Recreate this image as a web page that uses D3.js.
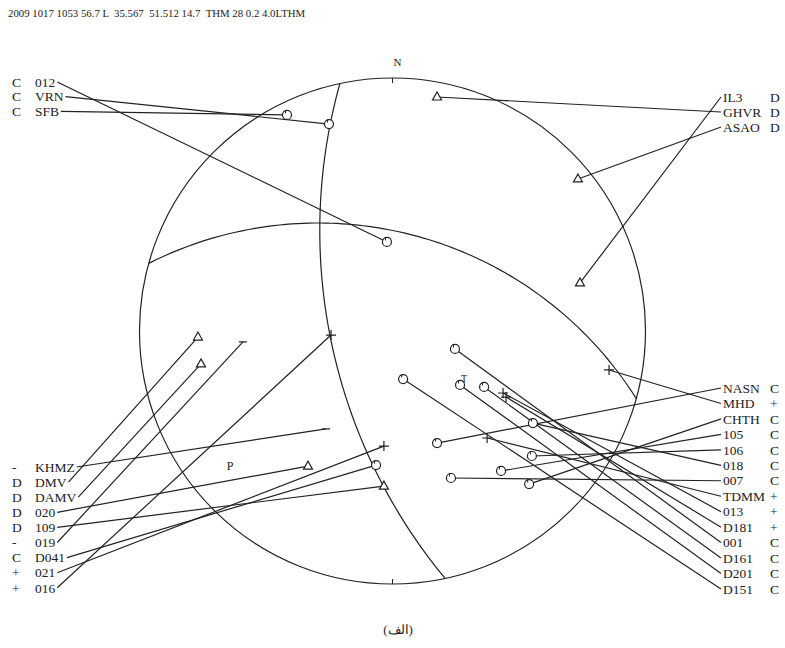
<!DOCTYPE html>
<html>
<head>
<meta charset="utf-8">
<script src="https://cdn.jsdelivr.net/npm/d3@7"></script>
<style>
body { margin: 0; background: #fff; }
text { font-family: "Liberation Serif", "DejaVu Serif", serif; fill: #222; }
</style>
</head>
<body>
<svg width="785" height="648"></svg>
<script>
// event header and caption
var header = "2009 1017 1053 56.7 L  35.567  51.512 14.7  THM 28 0.2 4.0LTHM";
var caption = "(الف)";

// nodal planes (strike, dip in degrees)
var planeStrike = [168, 285.5],
    planeDip = [62.4, 47.7];

// P and T axes, unit-circle position (east, north)
var axisNames = ["P", "T"],
    axisEast = [-0.642, 0.283],
    axisNorth = [-0.534, -0.186];

// stations, grouped by where the label is written
// east / north = position of the polarity inside the unit circle
var topLeftNames = ["012", "VRN", "SFB"],
    topLeftPol = ["C", "C", "C"],
    topLeftEast = [-0.022, -0.251, -0.417],
    topLeftNorth = [0.352, 0.818, 0.854];

var topRightNames = ["IL3", "GHVR", "ASAO"],
    topRightPol = ["D", "D", "D"],
    topRightEast = [0.741, 0.176, 0.733],
    topRightNorth = [0.190, 0.925, 0.601];

var botLeftNames = ["KHMZ", "DMV", "DAMV", "020", "109", "019", "D041", "021", "016"],
    botLeftPol = ["-", "D", "D", "D", "D", "-", "C", "+", "+"],
    botLeftEast = [-0.263, -0.769, -0.757, -0.334, -0.034, -0.591, -0.065, -0.034, -0.243],
    botLeftNorth = [-0.387, -0.024, -0.130, -0.534, -0.613, -0.043, -0.530, -0.455, -0.016];

var botRightNames = ["NASN", "MHD", "CHTH", "105", "106", "018", "007", "TDMM", "013", "D181", "001", "D161", "D201", "D151"],
    botRightPol = ["C", "+", "C", "C", "C", "C", "C", "+", "+", "+", "C", "C", "C", "C"],
    botRightEast = [0.176, 0.856, 0.540, 0.429, 0.551, 0.555, 0.231, 0.374, 0.437, 0.449, 0.247, 0.362, 0.267, 0.042],
    botRightNorth = [-0.443, -0.154, -0.605, -0.553, -0.494, -0.364, -0.581, -0.423, -0.245, -0.261, -0.071, -0.221, -0.213, -0.190];

var svg = d3.select("svg");
var cx = 392.5, cy = 331, R = 253;
var ink = "#222";

// unit circle -> pixels
var x = d3.scaleLinear().domain([-1, 1]).range([cx - R, cx + R]),
    y = d3.scaleLinear().domain([-1, 1]).range([cy + R, cy - R]);

var rad = Math.PI / 180;

// header
svg.append("text")
    .attr("x", 8).attr("y", 17)
    .style("white-space", "pre")
    .style("font-size", "10.8px")
    .text(header);

// primitive circle
svg.append("circle")
    .attr("cx", x(0)).attr("cy", y(0)).attr("r", x(1) - x(0))
    .attr("fill", "none").attr("stroke", ink).attr("stroke-width", 1.2);

// N and S ticks
svg.append("line").attr("x1", x(0)).attr("x2", x(0)).attr("y1", y(1)).attr("y2", y(0.98))
    .attr("stroke", ink);
svg.append("line").attr("x1", x(0)).attr("x2", x(0)).attr("y1", y(-1)).attr("y2", y(-0.98))
    .attr("stroke", ink);
svg.append("text").attr("x", x(0) + 5).attr("y", y(1) - 12)
    .attr("text-anchor", "middle").style("font-size", "11px").text("N");

// nodal planes, lower hemisphere stereographic
function greatCircle(strike, dip) {
  var s = strike * rad, d = dip * rad, pts = [];
  for (var t = 0; t <= 180; t += 2) {
    var a = t * rad;
    var e = Math.cos(a) * Math.sin(s) + Math.sin(a) * Math.cos(d) * Math.sin(s + Math.PI / 2),
        n = Math.cos(a) * Math.cos(s) + Math.sin(a) * Math.cos(d) * Math.cos(s + Math.PI / 2),
        z = Math.sin(a) * Math.sin(d);
    var plunge = Math.asin(Math.min(1, z)),
        trend = Math.atan2(e, n),
        r = Math.tan((Math.PI / 2 - plunge) / 2);
    pts.push([r * Math.sin(trend), r * Math.cos(trend)]);
  }
  return pts;
}

var line = d3.line().x(function(p) { return x(p[0]); }).y(function(p) { return y(p[1]); });

planeStrike.forEach(function(s, i) {
  svg.append("path")
      .attr("d", line(greatCircle(s, planeDip[i])))
      .attr("fill", "none").attr("stroke", ink).attr("stroke-width", 1.2);
});

// P and T letters
axisNames.forEach(function(name, i) {
  svg.append("text")
      .attr("x", x(axisEast[i])).attr("y", y(axisNorth[i]))
      .attr("text-anchor", "middle").attr("dy", "0.35em")
      .style("font-size", name == "P" ? "12px" : "10px")
      .text(name);
});

// one block of labelled stations
function stationBlock(names, pols, east, north, side, y0, step) {
  var g = svg.append("g");
  var marks = svg.append("g");
  names.forEach(function(name, i) {
    var ly = y0 + i * step;
    var sx = x(east[i]), sy = y(north[i]);
    var x1;
    if (side == "left") {
      g.append("text").attr("x", 12).attr("y", ly).attr("dy", "0.35em")
          .style("font-size", "13.5px").text(pols[i]);
      var t = g.append("text").attr("x", 35).attr("y", ly).attr("dy", "0.35em")
          .style("font-size", "13.5px").text(name);
      x1 = 35 + t.node().getComputedTextLength() + 2;
    } else {
      g.append("text").attr("x", 723).attr("y", ly).attr("dy", "0.35em")
          .style("font-size", "13.5px").text(name);
      g.append("text").attr("x", 770).attr("y", ly).attr("dy", "0.35em")
          .style("font-size", "13.5px").text(pols[i]);
      x1 = 721;
    }
    g.append("line")
        .attr("x1", x1).attr("y1", ly).attr("x2", sx).attr("y2", sy)
        .attr("stroke", ink).attr("stroke-width", 1.2);

    // polarity symbol
    var p = pols[i];
    if (p == "C") {
      marks.append("circle").attr("cx", sx).attr("cy", sy).attr("r", 4.5)
          .attr("fill", "#fff").attr("stroke", ink).attr("stroke-width", 1.2);
      marks.append("line").attr("x1", sx - 1.5).attr("y1", sy - 4.5).attr("x2", sx - 1.5).attr("y2", sy - 1.5)
          .attr("stroke", ink).attr("stroke-width", 1);
    } else if (p == "D") {
      marks.append("path")
          .attr("d", "M" + sx + "," + (sy - 5) + "L" + (sx + 4.5) + "," + (sy + 3) + "L" + (sx - 4.5) + "," + (sy + 3) + "Z")
          .attr("fill", "#fff").attr("stroke", ink).attr("stroke-width", 1.2);
    } else if (p == "+") {
      marks.append("path")
          .attr("d", "M" + (sx - 5) + "," + sy + "H" + (sx + 5) + "M" + sx + "," + (sy - 5) + "V" + (sy + 5))
          .attr("stroke", ink).attr("stroke-width", 1.2);
    } else {
      marks.append("path")
          .attr("d", "M" + (sx - 4) + "," + sy + "H" + (sx + 4))
          .attr("stroke", ink).attr("stroke-width", 1.2);
    }
  });
}

stationBlock(topLeftNames, topLeftPol, topLeftEast, topLeftNorth, "left", 82, 14.7);
stationBlock(topRightNames, topRightPol, topRightEast, topRightNorth, "right", 97, 15);
stationBlock(botLeftNames, botLeftPol, botLeftEast, botLeftNorth, "left", 467, 15.1);
stationBlock(botRightNames, botRightPol, botRightEast, botRightNorth, "right", 388, 15.46);

// caption
svg.append("text")
    .attr("x", 398).attr("y", 634)
    .attr("text-anchor", "middle")
    .style("font-size", "13px")
    .text(caption);
</script>
</body>
</html>
